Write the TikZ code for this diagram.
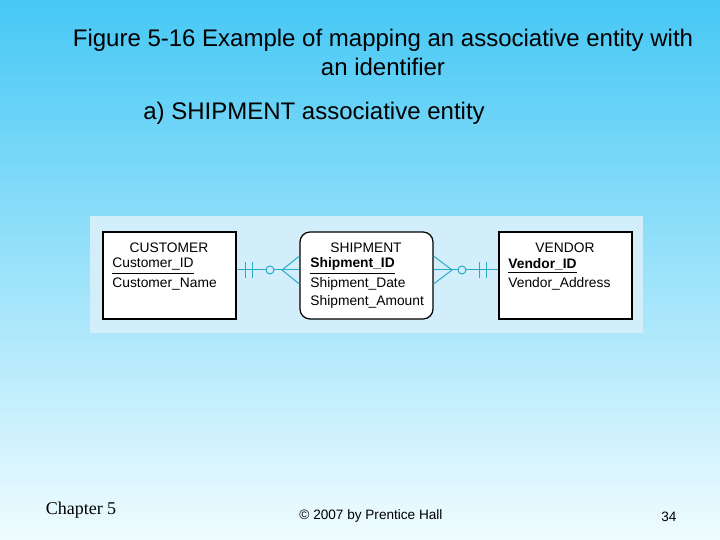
\documentclass[tikz,border=0pt]{standalone}
\usepackage{fontspec}
\setmainfont{Liberation Sans}
\newfontfamily\chapfont{Liberation Serif}
\definecolor{erline}{RGB}{40,170,200}
\definecolor{panel}{RGB}{210,238,250}
\tikzset{
  entity/.style={draw=black,fill=white,line width=0.6pt,minimum width=66.5pt,minimum height=43.5pt,inner sep=0pt},
  attr/.style={anchor=west,font=\fontsize{6.9}{7}\selectfont,inner sep=0pt},
  head/.style={anchor=center,font=\fontsize{6.9}{7}\selectfont,inner sep=0pt},
  rel/.style={draw=erline,line width=0.5pt}
}
\begin{document}
\begin{tikzpicture}[x=0.5pt,y=-0.5pt]
  \shade[top color={rgb,255:red,70;green,200;blue,245},bottom color={rgb,255:red,240;green,252;blue,255}] (0,0) rectangle (720,540);
  \useasboundingbox (0,0) rectangle (720,540);
  \node[font=\fontsize{12}{14.5}\selectfont,align=center] (title) at (383,52) {Figure 5-16 Example of mapping an associative entity with\\an identifier};
  \node[font=\fontsize{12}{14}\selectfont] (sub) at (314,113) {a) SHIPMENT associative entity};
  \fill[panel] (90,216) rectangle (643,333);
  % entities
  \node[entity] (cust) at (169.5,275.5) {};
  \node[entity,rounded corners=5pt] (ship) at (366.5,275.5) {};
  \node[entity] (vend) at (565.5,275.5) {};
  \node[head] (custh) at (169,248) {CUSTOMER};
  \node[attr] (cust1) at (112,266) {\underline{Customer\_ID}};
  \node[attr] (cust2) at (112,284) {Customer\_Name};
  \node[head] (shiph) at (366,248) {SHIPMENT};
  \node[attr] (ship1) at (310,266) {\underline{\textbf{Shipment\_ID}}};
  \node[attr] (ship2) at (310,284) {Shipment\_Date};
  \node[attr] (ship3) at (310,302) {Shipment\_Amount};
  \node[head] (vendh) at (565,248) {VENDOR};
  \node[attr] (vend1) at (508,266) {\underline{\textbf{Vendor\_ID}}};
  \node[attr] (vend2) at (508,284) {Vendor\_Address};
  % relationships
  \coordinate (cl) at (cust.east |- 0,270);
  \coordinate (sl) at (ship.west |- 0,270);
  \coordinate (sr) at (ship.east |- 0,270);
  \coordinate (vl) at (vend.west |- 0,270);
  \draw[rel] (cl) -- (266,270) (274,270) -- (sl);
  \draw[rel] (246,262) -- (246,278) (253,262) -- (253,278);
  \draw[rel] (270,270) circle (4);
  \draw[rel] (sl |- 0,256) -- (282,270) -- (sl |- 0,284);
  \draw[rel] (sr) -- (458,270) (466,270) -- (vl);
  \draw[rel] (sr |- 0,256) -- (452,270) -- (sr |- 0,284);
  \draw[rel] (462,270) circle (4);
  \draw[rel] (480,262) -- (480,278) (487,262) -- (487,278);
  % footer
  \node[font=\chapfont\fontsize{9}{10}\selectfont] (chap) at (81,510) {Chapter 5};
  \node[font=\fontsize{6.8}{8}\selectfont] (copy) at (371,516) {\textcopyright{} 2007 by Prentice Hall};
  \node[font=\fontsize{6.8}{8}\selectfont] (page) at (669,517) {34};
\end{tikzpicture}
\end{document}
